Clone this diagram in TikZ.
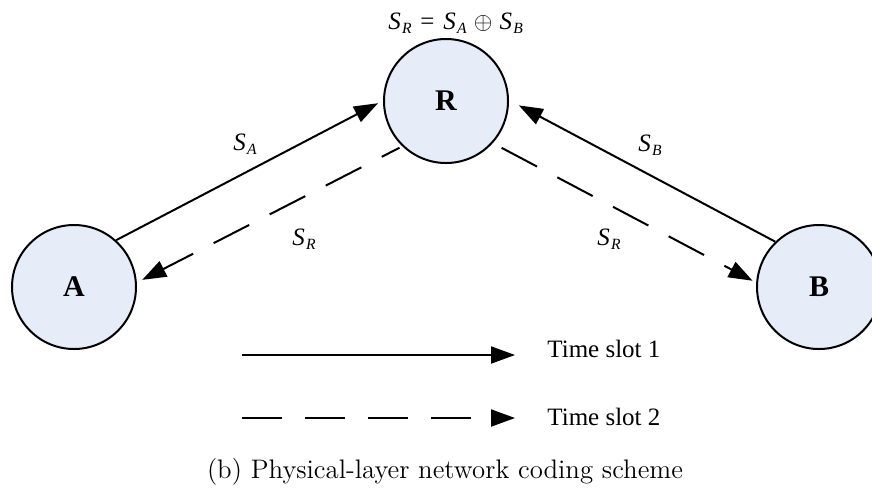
\documentclass[tikz,border=0pt]{standalone}
\usepackage{fontspec}
\newfontfamily\tms{Liberation Serif}
\usetikzlibrary{arrows.meta}
\definecolor{nodefill}{RGB}{230,237,248}
% signal symbol with a lowered italic index
\newcommand{\Sig}[1]{{\itshape S}\kern0.6pt\raisebox{-2.4pt}{\fontsize{7.8}{9}\selectfont\itshape #1}}

\begin{document}
\begin{tikzpicture}[x=0.5pt,y=-0.5pt,
  station/.style={circle,draw,line width=1pt,fill=nodefill,minimum size=62pt,
    inner sep=0pt,font=\tms\fontsize{15}{18}\selectfont\bfseries},
  link/.style={line width=1pt,-{Triangle[length=12pt,width=8.5pt]}},
  slottwo/.style={link,dash pattern=on 20pt off 11.5pt},
  lbl/.style={font=\tms\fontsize{12.5}{15}\selectfont,inner sep=0pt}]
\useasboundingbox (0,0) rectangle (872,489);

% terminals and relay
\node[station] (A) at (74,287) {A};
\node[station] (R) at (446,101) {R};
\node[station] (B) at (819,287) {B};

% first time slot: uplinks to the relay
\draw[link] (A.48) -- ([shift={(-2.5pt,0pt)}]R.182);
\draw[link] (B.134) -- ([shift={(5pt,0pt)}]R.-4);

% second time slot: broadcast from the relay
\draw[slottwo,dash phase=10pt,shorten <=1.5pt,shorten >=3pt] (R.226) -- (A.4);
\draw[slottwo,shorten <=5pt,shorten >=2pt] (R.-42) -- (B.176);

% link labels
\node[lbl,anchor=base west] (sa) at (233,150) {\Sig{A}};
\node[lbl,anchor=base west] (sr1) at (292,245) {\Sig{R}};
\node[lbl,anchor=base west] (sb) at (638,151) {\Sig{B}};
\node[lbl,anchor=base west] (sr2) at (597,245) {\Sig{R}};
\node[lbl,anchor=base west] (eq) at (388,29)
  {\Sig{R}\hspace{4.4pt}=\hspace{4.4pt}\Sig{A}\hspace{3.6pt}$\oplus$\hspace{3.6pt}\Sig{B}};

% legend
\coordinate (l1a) at (242,355);
\coordinate (l1b) at (515,355);
\coordinate (l2a) at (242,418);
\coordinate (l2b) at (515,418);
\draw[link] (l1a) -- (l1b);
\draw[slottwo] (l2a) -- (l2b);
\node[lbl,anchor=base west] (t1) at (547,357) {Time slot 1};
\node[lbl,anchor=base west] (t2) at (547,425) {Time slot 2};

% caption
\node[inner sep=0pt,anchor=base,font=\fontsize{13.4}{15}\selectfont] (cap) at (445,478)
  {(b) Physical-layer network coding scheme};
\end{tikzpicture}
\end{document}
